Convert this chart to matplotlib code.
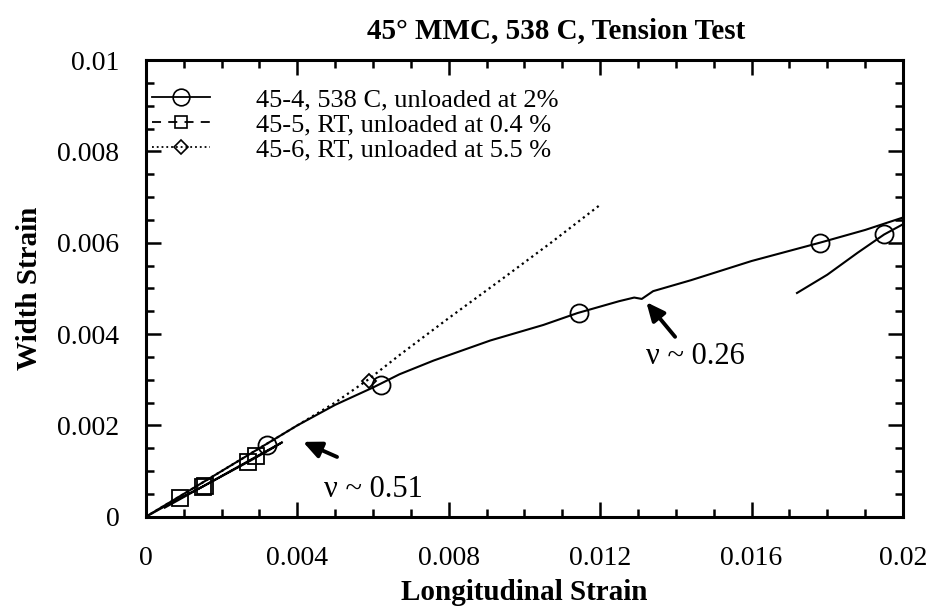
import numpy as np
import matplotlib.pyplot as plt
from matplotlib.lines import Line2D
from matplotlib.ticker import MultipleLocator

# 45-4, 538 C (solid line, circles)
x_454 = [0.0, 0.0010, 0.0020, 0.0031, 0.0040, 0.0050, 0.0060, 0.0067, 0.0076,
         0.0091, 0.0105, 0.0114, 0.0125, 0.0129, 0.0131, 0.0134, 0.0144,
         0.0160, 0.0178, 0.0190, 0.0201]
y_454 = [0.0, 0.00050, 0.00100, 0.00155, 0.00200, 0.00245, 0.00283, 0.00312,
         0.00342, 0.00386, 0.00420, 0.00446, 0.00472, 0.00480, 0.00477, 0.00494,
         0.00518, 0.00560, 0.00600, 0.00628, 0.00658]
# reload branch of 45-4
x_454b = [0.0172, 0.0180, 0.0188, 0.0195, 0.0201]
y_454b = [0.00490, 0.00530, 0.00578, 0.00618, 0.00645]
xm_454 = [0.0032, 0.0062, 0.01145, 0.01782, 0.01950]
ym_454 = [0.00158, 0.00288, 0.00446, 0.00600, 0.00620]

# 45-5, RT (dashed line, squares)
x_455 = [0.0, 0.0009, 0.0015, 0.0027, 0.0033, 0.0036, 0.0029, 0.0015, 0.0005]
y_455 = [0.0, 0.00041, 0.00066, 0.00120, 0.00148, 0.00163, 0.00131, 0.00066, 0.00020]
xm_455 = [0.0009, 0.0015, 0.00155, 0.0027, 0.0029]
ym_455 = [0.00040, 0.00065, 0.00067, 0.00119, 0.00132]

# 45-6, RT (dotted line, diamonds)
x_456 = [0.0, 0.0020, 0.0040, 0.0050, 0.0059, 0.0067, 0.0080, 0.0094, 0.0107, 0.0120]
y_456 = [0.0, 0.00100, 0.00200, 0.00250, 0.00302, 0.00354, 0.00435, 0.00520, 0.00600, 0.00683]
xm_456 = [0.0059]
ym_456 = [0.00298]

plt.rcParams['font.family'] = ['Liberation Serif', 'DejaVu Serif']

fig = plt.figure(figsize=(9.29, 6.13), dpi=100)
ax = fig.add_axes([0.157, 0.157, 0.815, 0.745])

lc = 'black'
ax.plot(x_454, y_454, '-', color=lc, lw=1.5)
ax.plot(x_454b, y_454b, '-', color=lc, lw=1.5)
ax.plot(xm_454, ym_454, 'o', mfc='none', mec=lc, ms=13, mew=1.3)
ax.plot(x_455, y_455, '-', color=lc, lw=1.5)
ax.plot(xm_455, ym_455, 's', mfc='none', mec=lc, ms=11, mew=1.3)
ax.plot(x_456, y_456, ':', color=lc, lw=1.6)
ax.plot(xm_456, ym_456, 'D', mfc='none', mec=lc, ms=7, mew=1.3)

handles = [
    Line2D([], [], color=lc, lw=1.3, ls='-', marker='o', mfc='none', ms=12, mew=1.2),
    Line2D([], [], color=lc, lw=1.3, ls=(0, (5, 4)), marker='s', mfc='none', ms=9, mew=1.2),
    Line2D([], [], color=lc, lw=1.3, ls=':', marker='D', mfc='none', ms=7, mew=1.2),
]
labels = ['45-4, 538 C, unloaded at 2%', '45-5, RT, unloaded at 0.4 %',
          '45-6, RT, unloaded at 5.5 %']
ax.legend(handles, labels, loc='upper left', bbox_to_anchor=(0.008, 0.939),
          frameon=False, fontsize=19, numpoints=1, handlelength=2.2,
          labelspacing=0.06, borderaxespad=0, borderpad=0, handletextpad=1.75)

ax.annotate('', xy=(0.00415, 0.00164), xytext=(0.00505, 0.00131),
            arrowprops=dict(arrowstyle='-|>,head_length=1.1,head_width=0.5',
                            color='black', lw=2.8, shrinkA=0, shrinkB=0))
ax.text(0.0047, 0.00060, 'ν ~ 0.51', fontsize=22, va='center', ha='left')
ax.annotate('', xy=(0.01322, 0.00470), xytext=(0.01398, 0.00394),
            arrowprops=dict(arrowstyle='-|>,head_length=1.1,head_width=0.5',
                            color='black', lw=2.8, shrinkA=0, shrinkB=0))
ax.text(0.0132, 0.00352, 'ν ~ 0.26', fontsize=22, va='center', ha='left')

ax.set_xlim(0, 0.02)
ax.set_ylim(0, 0.01)
ax.xaxis.set_minor_locator(MultipleLocator(0.001))
ax.yaxis.set_minor_locator(MultipleLocator(0.0005))
ax.set_xticks([0, 0.004, 0.008, 0.012, 0.016, 0.02])
ax.set_xticklabels(['0', '0.004', '0.008', '0.012', '0.016', '0.02'])
ax.set_yticks([0, 0.002, 0.004, 0.006, 0.008, 0.01])
ax.set_yticklabels(['0', '0.002', '0.004', '0.006', '0.008', '0.01'])
ax.tick_params(which='both', direction='in', top=True, right=True, width=1.8,
               labelsize=20)
ax.tick_params(axis='x', which='major', pad=21)
ax.tick_params(axis='y', which='major', pad=19)
ax.tick_params(which='major', length=11)
ax.tick_params(which='minor', length=6)
for s in ax.spines.values():
    s.set_linewidth(2.2)

ax.set_xlabel('Longitudinal Strain', fontsize=21, fontweight='bold', labelpad=6)
ax.set_ylabel('Width Strain', fontsize=21, fontweight='bold', labelpad=10)
ax.set_title('45° MMC, 538 C, Tension Test', fontsize=21, fontweight='bold',
             x=0.542, pad=16)

fig.savefig('out.png', dpi=100)
